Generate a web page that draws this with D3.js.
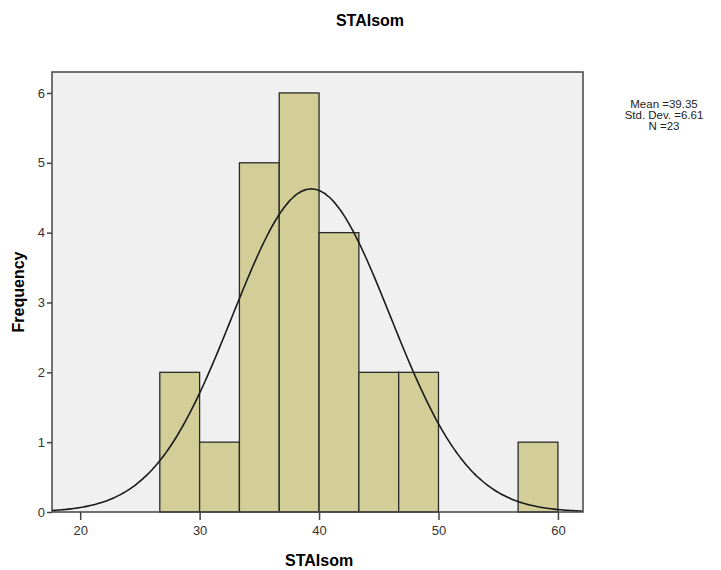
<!DOCTYPE html>
<html>
<head>
<meta charset="utf-8">
<script src="https://cdn.jsdelivr.net/npm/d3@7"></script>
<style>
  body { margin: 0; background: #fff; }
  text { font-family: "Liberation Sans", Arial, sans-serif; }
</style>
</head>
<body>
<div class="canva"></div>
<script>
// histogram data
const binEdges = [26.667, 30, 33.333, 36.667, 40, 43.333, 46.667, 50, 53.333, 56.667, 60];
const counts = [2, 1, 5, 6, 4, 2, 2, 0, 0, 1];
const xTicks = [20, 30, 40, 50, 60];
const yTicks = [0, 1, 2, 3, 4, 5, 6];
const stats = { mean: 39.35, sd: 6.61, n: 23 };
const statLines = ["Mean =39.35", "Std. Dev. =6.61", "N =23"];

const svg = d3.select(".canva").append("svg")
  .attr("width", 721)
  .attr("height", 570);

const margin = {top: 72, right: 138, bottom: 58, left: 52};
const width = 721 - margin.left - margin.right;
const height = 570 - margin.top - margin.bottom;

const x = d3.scaleLinear().domain([17.64, 62.1]).range([0, width]);
const y = d3.scaleLinear().domain([0, 6.3]).range([height, 0]);

const g = svg.append("g")
  .attr("transform", `translate(${margin.left}, ${margin.top})`);

// plot background
g.append("rect")
  .attr("width", width).attr("height", height)
  .attr("fill", "#f0f0f0");

// bars
const bins = counts.map((c, i) => ({x0: binEdges[i], x1: binEdges[i + 1], c: c}))
  .filter(d => d.c > 0);
g.selectAll(".bar")
  .data(bins)
  .enter()
  .append("rect")
  .attr("class", "bar")
  .attr("x", d => x(d.x0))
  .attr("y", d => y(d.c))
  .attr("width", d => x(d.x1) - x(d.x0))
  .attr("height", d => y(0) - y(d.c))
  .attr("fill", "#d3ce98")
  .attr("stroke", "#2a2a2a")
  .attr("stroke-width", 1.3);

// normal curve
const binWidth = binEdges[1] - binEdges[0];
const pdf = v => Math.exp(-0.5 * Math.pow((v - stats.mean) / stats.sd, 2)) / (stats.sd * Math.sqrt(2 * Math.PI));
const curveX = d3.range(x.domain()[0], x.domain()[1] + 0.01, 0.2);
const line = d3.line()
  .x(d => x(d))
  .y(d => y(stats.n * binWidth * pdf(d)))
  .curve(d3.curveBasis);
g.append("path")
  .datum(curveX)
  .attr("d", line)
  .attr("fill", "none")
  .attr("stroke", "#1a1a1a")
  .attr("stroke-width", 1.6);

// frame
g.append("rect")
  .attr("width", width).attr("height", height)
  .attr("fill", "none")
  .attr("stroke", "#444")
  .attr("stroke-width", 1.5);

// axes
const xAxis = g.append("g")
  .attr("transform", `translate(0, ${height})`)
  .call(d3.axisBottom(x).tickValues(xTicks).tickFormat(d3.format("d"))
    .tickSize(8).tickSizeOuter(0).tickPadding(6));
const yAxis = g.append("g")
  .call(d3.axisLeft(y).tickValues(yTicks).tickFormat(d3.format("d"))
    .tickSize(5).tickSizeOuter(0).tickPadding(2));
[xAxis, yAxis].forEach(a => {
  a.select(".domain").remove();
  a.selectAll("line").attr("stroke", "#444").attr("stroke-width", 1.5);
  a.selectAll("text").attr("fill", "#333").style("font-size", "13px")
    .style("font-family", "'Liberation Sans', Arial, sans-serif");
});

// titles
svg.append("text")
  .attr("x", 370).attr("y", 26)
  .attr("text-anchor", "middle")
  .style("font-size", "16px").style("font-weight", "bold")
  .text("STAIsom");

svg.append("text")
  .attr("x", margin.left + x(40)).attr("y", 566)
  .attr("text-anchor", "middle")
  .style("font-size", "16px").style("font-weight", "bold")
  .text("STAIsom");

svg.append("text")
  .attr("transform", `translate(24, ${margin.top + height / 2}) rotate(-90)`)
  .attr("text-anchor", "middle")
  .style("font-size", "16px").style("font-weight", "bold")
  .text("Frequency");

// stats box
svg.selectAll(".stat")
  .data(statLines)
  .enter()
  .append("text")
  .attr("class", "stat")
  .attr("x", 664)
  .attr("y", (d, i) => 108 + i * 11)
  .attr("text-anchor", "middle")
  .style("font-size", "11.5px")
  .attr("fill", "#222")
  .text(d => d);
</script>
</body>
</html>
